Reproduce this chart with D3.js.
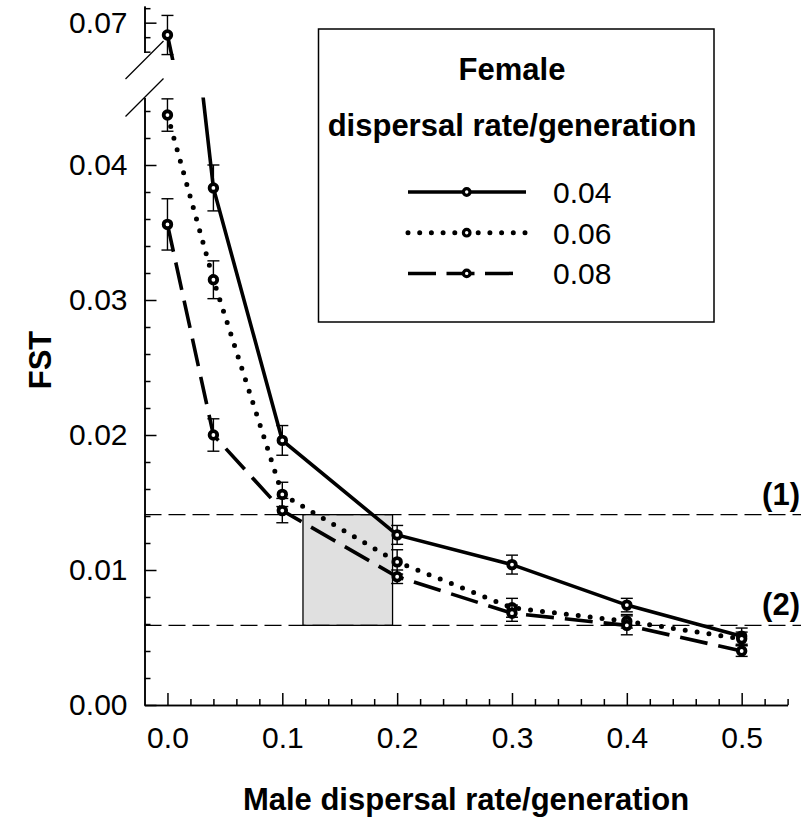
<!DOCTYPE html>
<html>
<head>
<meta charset="utf-8">
<script src="https://cdn.jsdelivr.net/npm/d3@7"></script>
<style>
  body { margin: 0; background: #fff; }
  svg { display: block; font-family: "Liberation Sans", Arial, sans-serif; }
</style>
</head>
<body>
<div id="chart"></div>
<script>
// male dispersal rate on x, FST on y, one series per female dispersal rate
var maleRates = [0, 0.04, 0.1, 0.2, 0.3, 0.4, 0.5];
var femaleRates = ["0.04", "0.06", "0.08"];
var fst04 = [0.0683, 0.0383, 0.0196, 0.0126, 0.0104, 0.0074, 0.0051];
var err04 = [0.0027, 0.0017, 0.0011, 0.0007, 0.0007, 0.0005, 0.0006];
var fst06 = [0.0437, 0.0315, 0.0156, 0.0106, 0.0072, 0.0062, 0.0049];
var err06 = [0.0012, 0.0014, 0.0009, 0.0009, 0.0007, 0.0005, 0.0005];
var fst08 = [0.0356, 0.0200, 0.0144, 0.0095, 0.0068, 0.0059, 0.0040];
var err08 = [0.0019, 0.0012, 0.0009, 0.0005, 0.0006, 0.0007, 0.0004];
var refValues = [0.0141, 0.0059];
var refLabels = ["(1)", "(2)"];
var shadeRange = [0.118, 0.196];
var xTicks = [0, 0.1, 0.2, 0.3, 0.4, 0.5];
var yTicksLow = [0, 0.01, 0.02, 0.03, 0.04];
var yTicksHigh = [0.07];

var width = 801, height = 819;
var svg = d3.select("#chart").append("svg")
    .attr("width", width)
    .attr("height", height);

var x = d3.scaleLinear().domain([-0.02, 0.54]).range([144.5, 787.6]);
// broken y axis: lower part and upper part have their own scale
var yLow = d3.scaleLinear().domain([0, 0.045]).range([705, 97.5]);
var yHigh = d3.scaleLinear().domain([0.0659, 0.0723]).range([52.4, 6]);
var breakTop = 60, breakBottom = yLow.range()[1];

var defs = svg.append("defs");
defs.append("clipPath").attr("id", "clipHigh").append("rect")
    .attr("x", 0).attr("y", 0).attr("width", width).attr("height", breakTop);
defs.append("clipPath").attr("id", "clipLow").append("rect")
    .attr("x", 0).attr("y", breakBottom).attr("width", width).attr("height", height - breakBottom);

// shaded zone between the two reference levels
svg.append("rect")
    .attr("x", x(shadeRange[0]))
    .attr("y", yLow(refValues[0]))
    .attr("width", x(shadeRange[1]) - x(shadeRange[0]))
    .attr("height", yLow(refValues[1]) - yLow(refValues[0]))
    .attr("fill", "#e0e0e0")
    .attr("stroke", "#000")
    .attr("stroke-width", 1.3);

// reference lines (1) and (2)
svg.selectAll(".ref").data(refValues).enter().append("line")
    .attr("class", "ref")
    .attr("x1", x.range()[0]).attr("x2", width)
    .attr("y1", function(d) { return yLow(d); })
    .attr("y2", function(d) { return yLow(d); })
    .attr("stroke", "#000")
    .attr("stroke-width", 1.3)
    .attr("stroke-dasharray", "17,7");

svg.selectAll(".refLabel").data(refValues).enter().append("text")
    .attr("class", "refLabel")
    .attr("x", 800)
    .attr("y", function(d) { return yLow(d) - 10; })
    .attr("text-anchor", "end")
    .style("font-size", "31px")
    .style("font-weight", "bold")
    .text(function(d, i) { return refLabels[i]; });

// axes
svg.append("g")
    .attr("transform", "translate(0," + yLow(0) + ")")
    .call(d3.axisBottom(x).tickValues(xTicks).tickSizeInner(-12).tickSizeOuter(0)
        .tickPadding(22).tickFormat(d3.format(".1f")));
svg.append("g")
    .attr("transform", "translate(0," + yLow(0) + ")")
    .call(d3.axisBottom(x).tickValues(d3.range(0.02, 0.55, 0.02).filter(function(v) {
            return Math.abs(v * 10 - Math.round(v * 10)) > 0.01; }))
        .tickSizeInner(-6).tickSizeOuter(0).tickFormat(""));

svg.append("g")
    .attr("transform", "translate(" + x.range()[0] + ",0)")
    .call(d3.axisLeft(yLow).tickValues(yTicksLow).tickSizeInner(-12).tickSizeOuter(0)
        .tickPadding(17).tickFormat(d3.format(".2f")));
svg.append("g")
    .attr("transform", "translate(" + x.range()[0] + ",0)")
    .call(d3.axisLeft(yLow).tickValues(d3.range(0.002, 0.045, 0.002).filter(function(v) {
            return Math.abs(v * 100 - Math.round(v * 100)) > 0.01; }))
        .tickSizeInner(-6).tickSizeOuter(0).tickFormat(""));

svg.append("g")
    .attr("transform", "translate(" + x.range()[0] + ",0)")
    .call(d3.axisLeft(yHigh).tickValues(yTicksHigh).tickSizeInner(-12).tickSizeOuter(0)
        .tickPadding(17).tickFormat(d3.format(".2f")));
svg.append("g")
    .attr("transform", "translate(" + x.range()[0] + ",0)")
    .call(d3.axisLeft(yHigh).tickValues([0.066, 0.068, 0.072])
        .tickSizeInner(-6).tickSizeOuter(0).tickFormat(""));

svg.selectAll(".tick text").style("font-size", "30px").attr("fill", "#000");
svg.selectAll(".domain, .tick line").attr("stroke", "#000").attr("stroke-width", 1.5);

// break marks on the y axis
[breakTop, breakBottom].forEach(function(cy) {
    svg.append("line")
        .attr("x1", x.range()[0] - 19).attr("y1", cy + 19)
        .attr("x2", x.range()[0] + 19).attr("y2", cy - 19)
        .attr("stroke", "#000").attr("stroke-width", 1.3);
});

// series
var series = [
    {name: femaleRates[0], values: fst04, errors: err04, dash: null, cap: "butt", width: 3.6},
    {name: femaleRates[1], values: fst06, errors: err06, dash: "0,12", cap: "round", width: 5},
    {name: femaleRates[2], values: fst08, errors: err08, dash: "28,11", cap: "butt", width: 3.6}
];
series.forEach(function(s) {
    s.points = maleRates.map(function(m, i) {
        return {x: m, y: s.values[i], e: s.errors[i], high: s.values[i] > 0.05};
    });
});

var panels = [
    {scale: yLow, clip: "url(#clipLow)", high: false},
    {scale: yHigh, clip: "url(#clipHigh)", high: true}
];

panels.forEach(function(p) {
    var g = svg.append("g").attr("clip-path", p.clip);
    var line = d3.line()
        .x(function(d) { return x(d.x); })
        .y(function(d) { return p.scale(d.y); });
    g.selectAll(".series").data(series).enter().append("path")
        .attr("d", function(s) { return line(s.points); })
        .attr("fill", "none")
        .attr("stroke", "#000")
        .attr("stroke-width", function(s) { return s.width; })
        .attr("stroke-linecap", function(s) { return s.cap; })
        .attr("stroke-dasharray", function(s) { return s.dash; });
});

panels.forEach(function(p) {
    series.forEach(function(s) {
        var pts = s.points.filter(function(d) { return d.high === p.high; });
        var eb = svg.append("g").selectAll("g").data(pts).enter().append("g");
        eb.append("line")
            .attr("x1", function(d) { return x(d.x); })
            .attr("x2", function(d) { return x(d.x); })
            .attr("y1", function(d) { return p.scale(d.y - d.e); })
            .attr("y2", function(d) { return p.scale(d.y + d.e); })
            .attr("stroke", "#000").attr("stroke-width", 1.4);
        [-1, 1].forEach(function(sign) {
            eb.append("line")
                .attr("x1", function(d) { return x(d.x) - 6; })
                .attr("x2", function(d) { return x(d.x) + 6; })
                .attr("y1", function(d) { return p.scale(d.y + sign * d.e); })
                .attr("y2", function(d) { return p.scale(d.y + sign * d.e); })
                .attr("stroke", "#000").attr("stroke-width", 1.4);
        });
        svg.append("g").selectAll("circle").data(pts).enter().append("circle")
            .attr("cx", function(d) { return x(d.x); })
            .attr("cy", function(d) { return p.scale(d.y); })
            .attr("r", 3.8)
            .attr("fill", "#fff")
            .attr("stroke", "#000")
            .attr("stroke-width", 3.8);
    });
});

// axis titles
svg.append("text")
    .attr("x", 466).attr("y", 810)
    .attr("text-anchor", "middle")
    .style("font-size", "31px").style("font-weight", "bold")
    .text("Male dispersal rate/generation");
svg.append("text")
    .attr("transform", "translate(51,360) rotate(-90)")
    .attr("text-anchor", "middle")
    .style("font-size", "31px").style("font-weight", "bold")
    .text("FST");

// legend
var legend = svg.append("g");
legend.append("rect")
    .attr("x", 318.5).attr("y", 29).attr("width", 395.5).attr("height", 293)
    .attr("fill", "#fff").attr("stroke", "#000").attr("stroke-width", 1.5);
legend.append("text")
    .attr("x", 512).attr("y", 80).attr("text-anchor", "middle")
    .style("font-size", "31px").style("font-weight", "bold")
    .text("Female");
legend.append("text")
    .attr("x", 512).attr("y", 136).attr("text-anchor", "middle")
    .style("font-size", "31px").style("font-weight", "bold")
    .text("dispersal rate/generation");

var legendDash = {"0.04": null, "0.06": "0,11.7", "0.08": "28,10.5"};
var item = legend.selectAll(".item").data(series).enter().append("g")
    .attr("transform", function(d, i) { return "translate(0," + (192 + i * 40.7) + ")"; });
item.append("line")
    .attr("x1", 408).attr("x2", function(s) { return s.dash === "28,11" ? 513 : 526; })
    .attr("y1", 0).attr("y2", 0)
    .attr("stroke", "#000")
    .attr("stroke-width", function(s) { return s.width === 5 ? 5 : 3.5; })
    .attr("stroke-linecap", function(s) { return s.cap; })
    .attr("stroke-dasharray", function(s) { return legendDash[s.name]; });
item.append("circle")
    .attr("cx", 466.7).attr("cy", 0).attr("r", 3.3)
    .attr("fill", "#fff").attr("stroke", "#000").attr("stroke-width", 3.2);
item.append("text")
    .attr("x", 553).attr("y", 11)
    .style("font-size", "30px")
    .text(function(s) { return s.name; });
</script>
</body>
</html>
